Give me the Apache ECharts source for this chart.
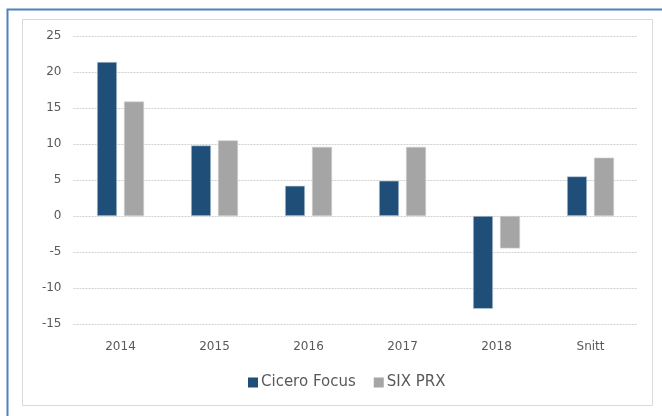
<!DOCTYPE html>
<html><head><meta charset="utf-8">
<script src="https://cdn.jsdelivr.net/npm/echarts@6/dist/echarts.min.js"></script>
<style>html,body{margin:0;padding:0;background:#fff}#c{width:662px;height:416px}</style>
</head><body><div id="c"></div>
<script>
var categories = ['2014','2015','2016','2017','2018','Snitt'];
var ciceroFocus = [21.4, 9.8, 4.2, 4.9, -12.9, 5.5];
var sixPrx = [15.9, 10.5, 9.6, 9.6, -4.5, 8.1];
var yTicks = [-15, 25, 5];

var chart = echarts.init(document.getElementById('c'));
chart.setOption({
  animation: false,
  backgroundColor: '#fff',
  graphic: [
    {type:'rect', shape:{x:7.5,y:9.5,width:700,height:450}, style:{fill:'none', stroke:'#4f81bd', lineWidth:2}},
    {type:'rect', shape:{x:22.5,y:19.5,width:630,height:386}, style:{fill:'#fff', stroke:'#d9d9d9', lineWidth:1}}
  ],
  grid: {left: 73.5, right: 24.5, top: 36, bottom: 92, containLabel: false},
  legend: {
    top: 370, left: 243, itemWidth: 10, itemHeight: 10, itemGap: 18,
    icon: 'rect',
    itemStyle: {borderWidth: 0},
    textStyle: {color: '#595959', fontSize: 15, fontFamily: 'DejaVu Sans', padding: [0,0,0,-2]},
    data: ['Cicero Focus', 'SIX PRX']
  },
  xAxis: {
    type: 'category', data: categories,
    axisLine: {show: false}, axisTick: {show: false},
    axisLabel: {color: '#595959', fontSize: 12, fontFamily: 'DejaVu Sans', margin: 17}
  },
  yAxis: {
    type: 'value', min: yTicks[0], max: yTicks[1], interval: yTicks[2],
    axisLine: {show: false}, axisTick: {show: false},
    axisLabel: {color: '#595959', fontSize: 12, fontFamily: 'DejaVu Sans', margin: 12},
    splitLine: {lineStyle: {color: '#d0d0d0', type: [2,1], width: 1}}
  },
  series: [
    {name: 'Cicero Focus', type: 'bar', data: ciceroFocus, barWidth: 20, barGap: '35%',
     itemStyle: {color: '#1f4e79', borderColor: '#c7d3e0', borderWidth: 0.6}},
    {name: 'SIX PRX', type: 'bar', data: sixPrx, barWidth: 20,
     itemStyle: {color: '#a5a5a5', borderColor: '#d0d0d0', borderWidth: 0.6}}
  ]
});
</script></body></html>
